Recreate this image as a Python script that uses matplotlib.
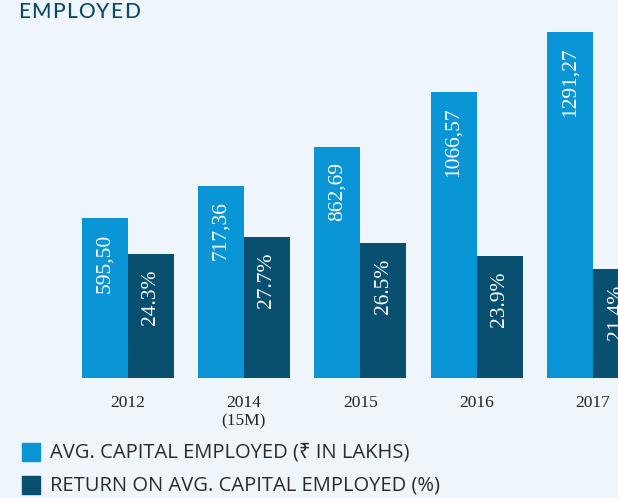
import matplotlib
matplotlib.use("Agg")
import matplotlib.pyplot as plt
from matplotlib.patches import Rectangle

years = ["2012", "2014\n(15M)", "2015", "2016", "2017"]
capital = [595.50, 717.36, 862.69, 1066.57, 1291.27]
capital_labels = ["595,50", "717,36", "862,69", "1066,57", "1291,27"]
roce = [24.3, 27.7, 26.5, 23.9, 21.4]
roce_labels = ["24.3%", "27.7%", "26.5%", "23.9%", "21.4%"]

LIGHT = "#0995d6"
DARK = "#094f70"
BG = "#eef6fc"
W, H = 618, 498

fig = plt.figure(figsize=(W / 100, H / 100), dpi=100, facecolor=BG)

ax_bottom = 378
ax_top = 20
ax = fig.add_axes([0, 1 - ax_bottom / H, 1, (ax_bottom - ax_top) / H])
ax.set_facecolor("none")
ax2 = ax.twinx()
ax2.set_facecolor("none")

spacing = 116.4
center0 = 127.5
xl = -center0 / spacing
xr = (W - center0) / spacing
bw = 46 / spacing
axh = ax_bottom - ax_top
ax.set_xlim(xl, xr)
ax.set_ylim(0, axh / 0.268)
ax2.set_ylim(0, axh / 5.1)

xs = list(range(len(years)))
serif = ["Liberation Serif", "DejaVu Serif"]

ax.bar([x - bw / 2 for x in xs], capital, width=bw, color=LIGHT, linewidth=0)
ax2.bar([x + bw / 2 for x in xs], roce, width=bw, color=DARK, linewidth=0)

for x, v, lab in zip(xs, capital, capital_labels):
    ax.annotate(lab, (x - bw / 2, v), xytext=(0, -11), textcoords="offset points",
                rotation=90, ha="center", va="top", color="white",
                fontsize=15.5, family=serif, annotation_clip=False)
for x, v, lab in zip(xs, roce, roce_labels):
    ax2.annotate(lab, (x + bw / 2, v), xytext=(0, -11), textcoords="offset points",
                 rotation=90, ha="center", va="top", color="white",
                 fontsize=15.5, family=serif, annotation_clip=False)

ax.set_xticks(xs)
ax.set_xticklabels(years, fontsize=12.5, family=serif, color="#222222", linespacing=1.25)
ax.tick_params(axis="x", length=0, pad=12)
ax.set_yticks([])
ax2.set_yticks([])
for a in (ax, ax2):
    for s in a.spines.values():
        s.set_visible(False)

# title with letter spacing
title = "EMPLOYED"
renderer = fig.canvas.get_renderer()
xpos = 18
for ch in title:
    t = fig.text(xpos / W, 1 - 12 / H, ch, fontsize=15, fontweight="medium",
                 family=["Lato", "DejaVu Sans"], color="#0d4a6a", va="center", ha="left")
    bb = t.get_window_extent(renderer=renderer)
    xpos += bb.width + 1.2

# legend
sans = ["Open Sans", "Noto Sans", "DejaVu Sans"]
legend_items = [("AVG. CAPITAL EMPLOYED (₹ IN LAKHS)", LIGHT, 452),
                ("RETURN ON AVG. CAPITAL EMPLOYED (%)", DARK, 485)]
for text, col, yc in legend_items:
    fig.patches.append(Rectangle((22 / W, 1 - (yc + 9) / H), 18 / W, 18 / H,
                                 transform=fig.transFigure, color=col))
    fig.text(50 / W, 1 - yc / H, text, fontsize=14.5, family=sans, color="#2a2a2a",
             va="center", ha="left")

fig.savefig("out.png", dpi=100, facecolor=BG)
